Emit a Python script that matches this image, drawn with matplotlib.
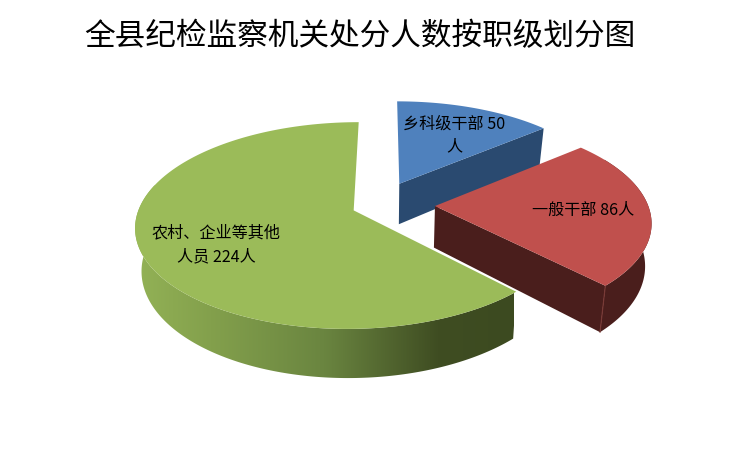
import numpy as np
import matplotlib
matplotlib.use("Agg")
import matplotlib.pyplot as plt
from matplotlib.patches import Polygon
from matplotlib.colors import LinearSegmentedColormap

plt.rcParams['font.family'] = ['Noto Sans CJK SC', 'DejaVu Sans']

title = "全县纪检监察机关处分人数按职级划分图"
categories = ["乡科级干部", "一般干部", "农村、企业等其他人员"]
values = [50, 86, 224]
unit = "人"

top_colors = ["#4F81BD", "#C0504D", "#9BBB59"]
cut_colors = ["#2A4A70", "#4A1E1C", "#3E4C22"]
label_pos = [(454, 135.5), (583, 210), (216, 245)]
nudges = [(-11, -2), (0, 2), (0, 0)]

# camera parameters, in pixels
CX, CY = 393, 203
RX, RY = 213, 99
PERSP = 0.145
DEPTH = 41.5
SHRINK = 0.025
EXPLODE = 0.197


def project(u, v, low=False):
    w = 1 + PERSP * v
    sx = RX * u / w
    sy = -RY * v / w
    if low:
        sx = sx * (1 - SHRINK)
        sy = sy + DEPTH / w
    return CX + sx, CY + sy


def arc(a0, a1, off, nudge, low=False, n=160):
    th = np.radians(np.linspace(a0, a1, n))
    x, y = project(off[0] + np.sin(th), off[1] + np.cos(th), low)
    return x + nudge[0], y + nudge[1]


fig = plt.figure(figsize=(7.5, 4.54), dpi=100, facecolor="white")
ax = fig.add_axes([0, 0, 1, 1])

green_cmap = LinearSegmentedColormap.from_list(
    "side", [(0.0, "#93B256"), (0.2, "#83A04C"), (0.5, "#6A8540"),
             (0.8, "#3F4D22"), (1.0, "#3C4A20")])

edges = np.concatenate([[0], np.cumsum(values)]) / sum(values) * 360
for i, val in enumerate(values):
    a0, a1 = edges[i], edges[i + 1]
    mid = np.radians((a0 + a1) / 2)
    off = (EXPLODE * np.sin(mid), EXPLODE * np.cos(mid))
    nd = nudges[i]

    xt, yt = arc(a0, a1, off, nd)
    xb, yb = arc(a0, a1, off, nd, low=True)
    ax_t, ay_t = project(off[0], off[1])
    ax_t, ay_t = ax_t + nd[0], ay_t + nd[1]
    ax_b, ay_b = project(off[0], off[1], low=True)
    ax_b, ay_b = ax_b + nd[0], ay_b + nd[1]

    # outer wall: only the part of the arc that faces the viewer
    w0, w1 = max(a0, 60), min(a1, 285)
    if w1 > w0:
        xwt, ywt = arc(w0, w1, off, nd)
        xwb, ywb = arc(w0, w1, off, nd, low=True)
        wall = Polygon(np.column_stack([np.r_[xwt, xwb[::-1]], np.r_[ywt, ywb[::-1]]]),
                       closed=True, fc=cut_colors[i], ec="none", zorder=2 + 3 * i)
        ax.add_patch(wall)
        if i == 2:
            wall.set_facecolor("none")
            img = ax.imshow(np.linspace(0, 1, 256)[None, :], cmap=green_cmap,
                            extent=[xt.min(), 514, 454, 0], aspect="auto",
                            zorder=2 + 3 * i)
            img.set_clip_path(wall)

    # cut face at the clockwise end of a slice, if it faces the viewer
    if a1 < 180:
        ax.add_patch(Polygon([(ax_t, ay_t), (xt[-1], yt[-1]), (xb[-1], yb[-1]), (ax_b, ay_b)],
                             closed=True, fc=cut_colors[i], ec="none", zorder=3 + 3 * i))
        if i == 1:
            ax.plot([xt[-1], xb[-1]], [yt[-1], yb[-1]], color="#7A3A36", lw=0.8,
                    zorder=3 + 3 * i)

    # top face
    ax.add_patch(Polygon(np.column_stack([np.r_[ax_t, xt], np.r_[ay_t, yt]]),
                         closed=True, fc=top_colors[i], ec="none", zorder=4 + 3 * i))

for cat, val, (lx, ly) in zip(categories, values, label_pos):
    s = f"{cat} {val}{unit}"
    s = "\n".join(s[k:k + 8] for k in range(0, len(s), 8))
    ax.text(lx, ly, s, ha="center", va="center", fontsize=11.6, color="black",
            linespacing=1.5, zorder=20)

ax.text(360, 37, title, ha="center", va="center", fontsize=22.1, color="black", zorder=20)

ax.set_xlim(0, 750)
ax.set_ylim(454, 0)
ax.axis("off")
fig.savefig("out.png", dpi=100, facecolor="white")
